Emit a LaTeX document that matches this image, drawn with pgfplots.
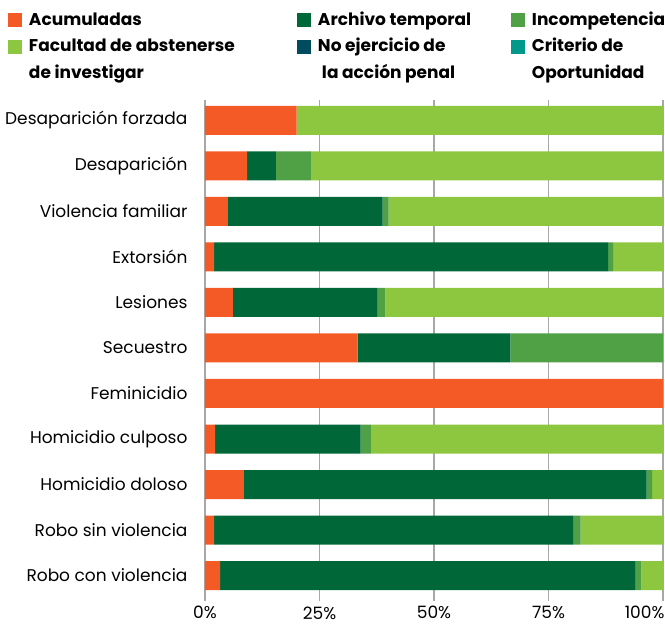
\documentclass[border=0pt]{standalone}
\usepackage{pgfplots}
\usepackage{pgfplotstable}
\pgfplotsset{compat=1.18}
\usepackage{fontspec}
\setmainfont{Poppins}
\definecolor{cacum}{HTML}{F45A25}
\definecolor{carch}{HTML}{006838}
\definecolor{cinc}{HTML}{50A046}
\definecolor{cfac}{HTML}{8DC63F}
\definecolor{cnoej}{HTML}{004B5D}
\definecolor{ccrit}{HTML}{00998A}
\definecolor{cgrid}{HTML}{A8A8A8}
\newcommand{\lone}[2]{\raisebox{0pt}[12bp][0pt]{\makebox[#1][l]{#2}}}
\newcommand{\ltwo}[2]{\raisebox{0pt}[12bp][0pt]{\parbox[t]{#1}{#2}}}
\pgfplotstableread{
y acum arch inc fac noej crit
0 3.3 90.7 1.3 4.7 0 0
1 2.0 78.4 1.6 18.0 0 0
2 8.5 87.9 1.2 2.4 0 0
3 2.2 31.8 2.2 63.8 0 0
4 100 0 0 0 0 0
5 33.3 33.4 33.3 0 0 0
6 6.1 31.6 1.7 60.6 0 0
7 2.0 86.0 1.1 10.9 0 0
8 5.0 33.8 1.3 59.9 0 0
9 9.2 6.3 7.6 76.9 0 0
10 20 0 0 80 0 0
}\data
\begin{document}
\begin{tikzpicture}
\begin{axis}[
  scale only axis,
  width=458bp, height=501bp,
  xbar stacked,
  bar width=29bp,
  xmin=0, xmax=100,
  ymin=-0.56, ymax=10.45,
  axis line style={draw=none},
  tick style={draw=none},
  xtick={0,25,50,75,100},
  xticklabels={0\%,25\%,50\%,75\%,\makebox[0pt][r]{100\%\hspace*{-1.5bp}}},
  ytick={0,...,10},
  yticklabels={Robo con violencia,Robo sin violencia,Homicidio doloso,Homicidio culposo,Feminicidio,Secuestro,Lesiones,Extorsión,Violencia familiar,Desaparición,Desaparición forzada},
  xmajorgrids,
  grid style={cgrid, line width=1.6bp},
  ticklabel style={font=\fontsize{17bp}{20bp}\selectfont},
  /pgf/number format/assume math mode=true,
  yticklabel style={anchor=east, xshift=-14bp},
  xticklabel style={yshift=-2bp},
  legend image code/.code={\fill[#1] (0bp,-7bp) rectangle (14bp,7bp);},
  legend columns=3,
  legend cell align=left,
  legend style={at={(axis description cs:0,1)}, anchor=north west,
    xshift=-197bp, yshift=87bp, draw=none, fill=none, inner sep=0pt, outer sep=0pt,
    nodes={inner sep=0pt, outer sep=0pt},
    font=\fontsize{17bp}{27bp}\selectfont\bfseries,
    column sep=0pt, row sep=12.7bp,
    /tikz/every odd column/.append style={column sep=7bp}},
]
\addplot[fill=cacum, draw=none] table[x=acum, y=y] {\data};
\addplot[fill=carch, draw=none] table[x=arch, y=y] {\data};
\addplot[fill=cinc, draw=none] table[x=inc, y=y] {\data};
\addplot[fill=cfac, draw=none] table[x=fac, y=y] {\data};
\addplot[fill=cnoej, draw=none] table[x=noej, y=y] {\data};
\addplot[fill=ccrit, draw=none] table[x=crit, y=y] {\data};
\legend{\lone{268bp}{Acumuladas},\lone{193bp}{Archivo temporal},\lone{130bp}{Incompetencia},\ltwo{268bp}{Facultad de abstenerse\\de investigar},\ltwo{193bp}{No ejercicio de\\\hspace*{4bp}la acción penal},\ltwo{130bp}{Criterio de\\Oportunidad}}
\end{axis}
\pgfresetboundingbox
\path[use as bounding box] (-205bp,-23bp) rectangle (460bp,601bp);
\end{tikzpicture}
\end{document}
